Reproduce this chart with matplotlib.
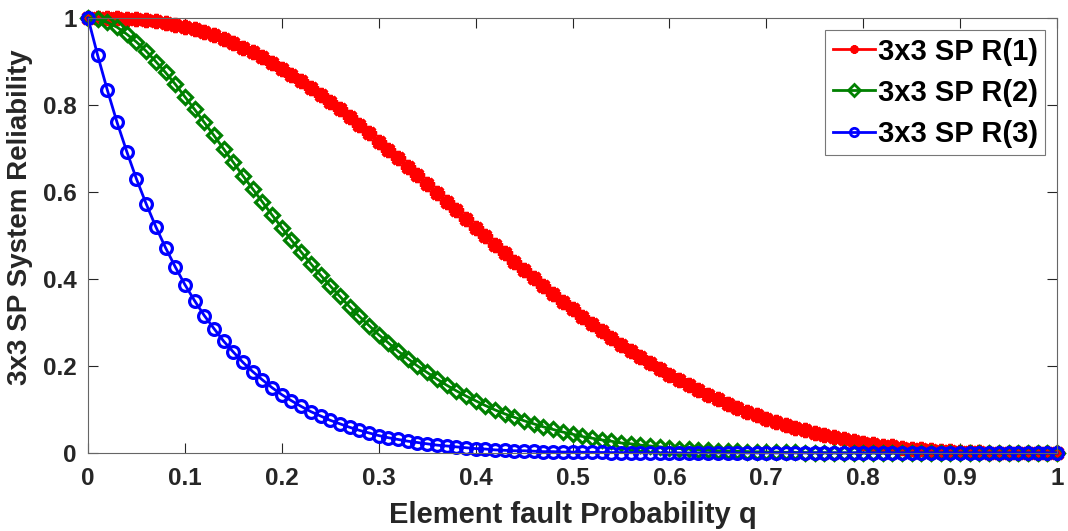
import numpy as np
import matplotlib
matplotlib.use("Agg")
import matplotlib.pyplot as plt
import matplotlib.ticker as mticker

plt.rcParams["font.family"] = ["Liberation Sans", "DejaVu Sans"]
plt.rcParams["font.weight"] = "bold"

# element fault probability q, step 0.01
q = np.round(np.arange(0, 101) * 0.01, 2)

r1 = [1.000, 1.000, 1.000, 0.999, 0.998, 0.997, 0.995, 0.993, 0.989, 0.985,
      0.980, 0.974, 0.968, 0.960, 0.952, 0.943, 0.932, 0.921, 0.910, 0.897,
      0.884, 0.870, 0.855, 0.839, 0.823, 0.807, 0.790, 0.772, 0.754, 0.735,
      0.716, 0.697, 0.678, 0.658, 0.638, 0.618, 0.598, 0.578, 0.558, 0.538,
      0.518, 0.498, 0.479, 0.459, 0.440, 0.421, 0.402, 0.383, 0.365, 0.348,
      0.330, 0.313, 0.296, 0.280, 0.264, 0.249, 0.234, 0.220, 0.206, 0.193,
      0.180, 0.168, 0.156, 0.145, 0.134, 0.123, 0.113, 0.104, 0.095, 0.087,
      0.079, 0.071, 0.065, 0.058, 0.052, 0.046, 0.041, 0.036, 0.031, 0.028,
      0.024, 0.020, 0.017, 0.015, 0.012, 0.010, 0.008, 0.007, 0.005, 0.004,
      0.003, 0.002, 0.0015, 0.001, 0.0006, 0.0004, 0.0002, 0.0001, 0.0, 0.0,
      0.0]

r2 = [1.000, 0.997, 0.990, 0.979, 0.963, 0.945, 0.924, 0.900, 0.875, 0.848,
      0.819, 0.790, 0.760, 0.730, 0.699, 0.668, 0.637, 0.607, 0.577, 0.547,
      0.518, 0.489, 0.462, 0.435, 0.409, 0.384, 0.360, 0.336, 0.314, 0.293,
      0.272, 0.253, 0.234, 0.217, 0.200, 0.185, 0.170, 0.156, 0.143, 0.131,
      0.120, 0.109, 0.099, 0.090, 0.082, 0.074, 0.067, 0.060, 0.054, 0.048,
      0.043, 0.038, 0.034, 0.030, 0.027, 0.023, 0.021, 0.018, 0.016, 0.014,
      0.012, 0.010, 0.009, 0.007, 0.006, 0.005, 0.0045, 0.0038, 0.0031, 0.0026,
      0.0021, 0.0018, 0.0014, 0.0011, 0.0009, 0.0007, 0.0006, 0.0004, 0.0003, 0.0003,
      0.0002, 0.0001, 0.0001, 0.0, 0.0, 0.0, 0.0, 0.0, 0.0, 0.0,
      0.0, 0.0, 0.0, 0.0, 0.0, 0.0, 0.0, 0.0, 0.0, 0.0,
      0.0]

r3 = [1.000, 0.914, 0.834, 0.760, 0.693, 0.630, 0.573, 0.520, 0.472, 0.428,
      0.387, 0.350, 0.316, 0.286, 0.257, 0.232, 0.208, 0.187, 0.168, 0.150,
      0.134, 0.120, 0.107, 0.095, 0.085, 0.075, 0.067, 0.059, 0.052, 0.046,
      0.040, 0.035, 0.031, 0.027, 0.024, 0.021, 0.018, 0.016, 0.014, 0.012,
      0.010, 0.009, 0.007, 0.006, 0.005, 0.005, 0.004, 0.003, 0.003, 0.002,
      0.002, 0.0016, 0.0014, 0.0011, 0.0009, 0.0008, 0.0006, 0.0005, 0.0004, 0.0003,
      0.0003, 0.0002, 0.0001, 0.0001, 0.0, 0.0, 0.0, 0.0, 0.0, 0.0,
      0.0, 0.0, 0.0, 0.0, 0.0, 0.0, 0.0, 0.0, 0.0, 0.0,
      0.0, 0.0, 0.0, 0.0, 0.0, 0.0, 0.0, 0.0, 0.0, 0.0,
      0.0, 0.0, 0.0, 0.0, 0.0, 0.0, 0.0, 0.0, 0.0, 0.0,
      0.0]

labels = ["3x3 SP R(1)", "3x3 SP R(2)", "3x3 SP R(3)"]

fig = plt.figure(figsize=(10.68, 5.31), dpi=100)
ax = fig.add_axes([0.0824, 0.147, 0.9073, 0.819])

ax.plot(q, r1, color="#ff0000", lw=2, marker=(8, 2, 0), ms=11, mew=3,
        label=labels[0], clip_on=False)
ax.plot(q, r2, color="#008000", lw=2, marker="D", ms=7, mew=2.3,
        mfc="none", label=labels[1], clip_on=False)
ax.plot(q, r3, color="#0000ff", lw=2, marker="o", ms=8.5, mew=2.3,
        mfc="none", label=labels[2], clip_on=False)

ax.set_xlim(0, 1)
ax.set_ylim(0, 1)
ax.set_xticks(np.arange(0, 1.01, 0.1))
ax.set_yticks(np.arange(0, 1.01, 0.2))
fmt = mticker.FuncFormatter(lambda v, _: f"{v:g}")
ax.xaxis.set_major_formatter(fmt)
ax.yaxis.set_major_formatter(fmt)
ax.tick_params(direction="in", top=True, right=True, length=7, width=0.8,
               colors="#262626", labelsize=17.5)
ax.tick_params(axis="x", pad=10)
ax.tick_params(axis="y", pad=8)
for s in ax.spines.values():
    s.set_color("#666666")
    s.set_linewidth(0.8)

ax.set_xlabel("Element fault Probability q", fontsize=21, fontweight="bold",
              color="#262626", labelpad=8)
ax.set_ylabel("3x3 SP System Reliability", fontsize=20, fontweight="bold",
              color="#262626")
ax.yaxis.set_label_coords(-0.057, 0.543)

leg = ax.legend(loc="upper right", bbox_to_anchor=(0.988, 0.972), fontsize=21,
                frameon=True, fancybox=False, edgecolor="#555555",
                handlelength=1.45, handletextpad=0.1, borderpad=0.25,
                labelspacing=0.45, borderaxespad=0)
leg.get_frame().set_linewidth(0.8)
for h in leg.legend_handles:
    h.set_markersize(6)
    h.set_markeredgewidth(2)

fig.savefig("out.png", dpi=100)
